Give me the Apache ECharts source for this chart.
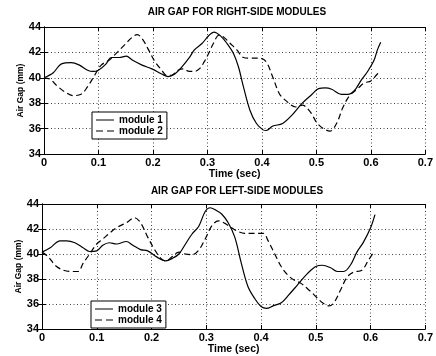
<!DOCTYPE html>
<html>
<head>
<meta charset="utf-8">
<script src="https://cdn.jsdelivr.net/npm/echarts@6/dist/echarts.min.js"></script>
<style>
  html, body { margin: 0; padding: 0; background: #fff; }
  #chart { width: 436px; height: 356px; }
</style>
</head>
<body>
<div id="chart"></div>
<script>
// Axis ticks
const timeTicks = [0, 0.1, 0.2, 0.3, 0.4, 0.5, 0.6, 0.7];
const gapTicks = [34, 36, 38, 40, 42, 44];

// Right-side modules
const timeM1 = [0, 0.017, 0.032, 0.05, 0.065, 0.08, 0.09, 0.1, 0.114, 0.123, 0.138, 0.151, 0.162, 0.18, 0.198, 0.216, 0.228, 0.24, 0.252, 0.267, 0.276, 0.29, 0.303, 0.312, 0.324, 0.336, 0.348, 0.357, 0.366, 0.378, 0.39, 0.402, 0.408, 0.42, 0.438, 0.456, 0.474, 0.492, 0.504, 0.516, 0.528, 0.546, 0.558, 0.57, 0.582, 0.594, 0.606, 0.612, 0.618];
const gapM1 = [40.0, 40.4, 41.1, 41.2, 41.0, 40.6, 40.5, 40.6, 41.1, 41.6, 41.6, 41.7, 41.4, 41.0, 40.7, 40.3, 40.1, 40.3, 40.8, 41.6, 42.2, 42.7, 43.35, 43.6, 43.3, 42.7, 41.9, 40.85, 39.3, 37.45, 36.4, 35.9, 35.85, 36.2, 36.4, 37.1, 38.0, 38.7, 39.15, 39.2, 39.1, 38.7, 38.7, 39.0, 39.8, 40.5, 41.4, 42.2, 42.8];

const timeM2 = [0, 0.011, 0.023, 0.038, 0.053, 0.068, 0.08, 0.093, 0.105, 0.12, 0.132, 0.147, 0.162, 0.171, 0.18, 0.192, 0.204, 0.216, 0.225, 0.234, 0.246, 0.255, 0.267, 0.276, 0.285, 0.294, 0.303, 0.312, 0.321, 0.33, 0.342, 0.354, 0.366, 0.378, 0.396, 0.408, 0.42, 0.432, 0.444, 0.462, 0.474, 0.489, 0.501, 0.513, 0.525, 0.537, 0.549, 0.561, 0.576, 0.588, 0.6, 0.612, 0.618];
const gapM2 = [40.0, 39.9, 39.4, 38.9, 38.6, 38.7, 39.3, 40.2, 41.0, 41.4, 41.9, 42.55, 43.2, 43.4, 43.1, 42.2, 41.25, 40.6, 40.2, 40.2, 40.6, 40.7, 40.5, 40.5, 40.7, 41.25, 42.0, 42.8, 43.35, 43.2, 42.7, 42.2, 41.6, 41.55, 41.55, 41.25, 40.05, 38.75, 38.2, 37.7, 37.85, 37.3, 36.45, 36.0, 35.8, 36.4, 37.7, 38.6, 39.15, 39.6, 39.75, 40.3, 40.45];

// Left-side modules
const timeM3 = [0, 0.015, 0.033, 0.045, 0.06, 0.075, 0.087, 0.1, 0.111, 0.123, 0.136, 0.154, 0.166, 0.18, 0.193, 0.21, 0.226, 0.238, 0.25, 0.262, 0.274, 0.286, 0.298, 0.307, 0.316, 0.328, 0.34, 0.352, 0.364, 0.376, 0.389, 0.4, 0.41, 0.422, 0.437, 0.449, 0.467, 0.485, 0.5, 0.512, 0.527, 0.539, 0.551, 0.563, 0.575, 0.587, 0.6, 0.608];
const gapM3 = [40.15, 40.5, 41.05, 41.05, 40.9, 40.5, 40.2, 40.25, 40.7, 40.9, 40.8, 41.0, 40.7, 40.35, 40.25, 39.75, 39.45, 39.65, 40.0, 40.8, 41.6, 42.2, 43.4, 43.7, 43.55, 43.2, 42.5, 41.35, 39.25, 37.4, 36.4, 35.8, 35.65, 35.85, 36.1, 36.65, 37.55, 38.45, 39.0, 39.1, 38.9, 38.6, 38.6, 39.1, 40.15, 40.95, 42.1, 43.15];

const timeM4 = [0, 0.012, 0.024, 0.039, 0.054, 0.066, 0.075, 0.087, 0.1, 0.111, 0.123, 0.136, 0.154, 0.169, 0.18, 0.193, 0.205, 0.217, 0.226, 0.238, 0.25, 0.262, 0.274, 0.286, 0.298, 0.31, 0.322, 0.334, 0.346, 0.358, 0.37, 0.388, 0.404, 0.413, 0.425, 0.437, 0.449, 0.461, 0.473, 0.488, 0.5, 0.512, 0.524, 0.533, 0.545, 0.557, 0.569, 0.584, 0.596, 0.605];
const gapM4 = [40.15, 39.75, 39.1, 38.7, 38.6, 38.6, 39.25, 40.0, 40.8, 41.2, 41.65, 42.1, 42.5, 42.9, 42.5, 41.35, 40.4, 39.65, 39.45, 39.8, 40.15, 40.0, 39.95, 40.3, 41.2, 42.25, 42.65, 42.45, 42.1, 41.8, 41.65, 41.65, 41.65, 41.05, 40.0, 38.98, 38.3, 37.9, 37.65, 37.1, 36.6, 36.1, 35.85, 36.1, 37.1, 38.15, 38.55, 38.7, 39.5, 40.1];

const titles = ['AIR GAP FOR RIGHT-SIDE MODULES', 'AIR GAP FOR LEFT-SIDE MODULES'];
const seriesNames = ['module 1', 'module 2', 'module 3', 'module 4'];

const FONT = 'Liberation Sans, Arial, Helvetica, sans-serif';
const INK = '#000';

// Legend swatches: an 18x9 box holding a 1px solid or dashed stroke
const ICON_SOLID = 'path://M0,0M18,9M0,4H18V5H0Z';
const ICON_DASHED = 'path://M0,0M18,9M0,4H7V5H0Z M11,4H18V5H11Z';

function zip(t, v) { return t.map((x, i) => [x, v[i]]); }

const grids = [
  { left: 44, right: 5, top: 27, height: 127 },
  { left: 42, right: 6, top: 204, height: 128 }
];

const gridLine = { show: true, lineStyle: { color: '#444', type: [1, 2.5], width: 1 } };
const tickIn = { show: true, inside: true, length: 4, lineStyle: { color: INK } };

const xAxes = [], yAxes = [];
grids.forEach((g, i) => {
  xAxes.push({
    type: 'value', gridIndex: i, min: timeTicks[0], max: timeTicks[timeTicks.length - 1], interval: 0.1,
    position: 'bottom',
    axisLine: { show: true, lineStyle: { color: INK, width: 1 } },
    axisTick: tickIn,
    splitLine: gridLine,
    axisLabel: { color: INK, fontFamily: FONT, fontWeight: 'bold', fontSize: 11, margin: 3 },
    name: 'Time (sec)', nameLocation: 'middle', nameGap: 15, nameMoveOverlap: false,
    nameTextStyle: { color: INK, fontFamily: FONT, fontWeight: 'bold', fontSize: 10.5 }
  });
  xAxes.push({
    type: 'value', gridIndex: i, min: timeTicks[0], max: timeTicks[timeTicks.length - 1], interval: 0.1,
    position: 'top',
    axisLine: { show: true, lineStyle: { color: INK, width: 1 } },
    axisTick: tickIn, axisLabel: { show: false }, splitLine: { show: false }
  });
  yAxes.push({
    type: 'value', gridIndex: i, min: gapTicks[0], max: gapTicks[gapTicks.length - 1], interval: 2,
    position: 'left',
    axisLine: { show: true, lineStyle: { color: INK, width: 1 } },
    axisTick: tickIn,
    splitLine: gridLine,
    axisLabel: { color: INK, fontFamily: FONT, fontWeight: 'bold', fontSize: 11, margin: 3 },
    name: 'Air Gap (mm)', nameLocation: 'middle', nameGap: 19, nameRotate: 90, nameMoveOverlap: false,
    nameTextStyle: { color: INK, fontFamily: FONT, fontWeight: 'bold', fontSize: 8.5 }
  });
  yAxes.push({
    type: 'value', gridIndex: i, min: gapTicks[0], max: gapTicks[gapTicks.length - 1], interval: 2,
    position: 'right',
    axisLine: { show: true, lineStyle: { color: INK, width: 1 } },
    axisTick: tickIn, axisLabel: { show: false }, splitLine: { show: false }
  });
});

const seriesData = [zip(timeM1, gapM1), zip(timeM2, gapM2), zip(timeM3, gapM3), zip(timeM4, gapM4)];
const series = seriesData.map((d, k) => {
  const g = k < 2 ? 0 : 1;
  const dashed = k % 2 === 1;
  return {
    name: seriesNames[k], type: 'line', data: d,
    xAxisIndex: g * 2, yAxisIndex: g * 2,
    showSymbol: false, symbol: 'none', smooth: 0.35,
    lineStyle: { color: INK, width: 1.2, type: dashed ? [6, 3.5] : 'solid' },
    itemStyle: { color: INK },
    animation: false
  };
});

function makeLegend(left, top, names) {
  return {
    orient: 'vertical', left: left, top: top,
    data: names.map((n, j) => ({ name: n, icon: j === 0 ? ICON_SOLID : ICON_DASHED })),
    itemGap: 1, itemWidth: 18, itemHeight: 9,
    padding: [3, 4, 3, 4], borderColor: INK, borderWidth: 1, backgroundColor: '#fff',
    itemStyle: { color: INK, borderWidth: 0 },
    textStyle: { color: INK, fontFamily: FONT, fontWeight: 'bold', fontSize: 10 },
    selectedMode: false
  };
}

const option = {
  backgroundColor: '#fff',
  animation: false,
  title: titles.map((t, i) => ({
    text: t, left: 237, textAlign: 'center', top: i === 0 ? 7 : 186, padding: 0,
    textStyle: { color: INK, fontFamily: FONT, fontWeight: 'bold', fontSize: 10 }
  })),
  grid: grids,
  xAxis: xAxes,
  yAxis: yAxes,
  legend: [
    makeLegend(92, 112, [seriesNames[0], seriesNames[1]]),
    makeLegend(91, 301, [seriesNames[2], seriesNames[3]])
  ],
  series: series
};

const chart = echarts.init(document.getElementById('chart'), null, { renderer: 'canvas' });
chart.setOption(option);
</script>
</body>
</html>
